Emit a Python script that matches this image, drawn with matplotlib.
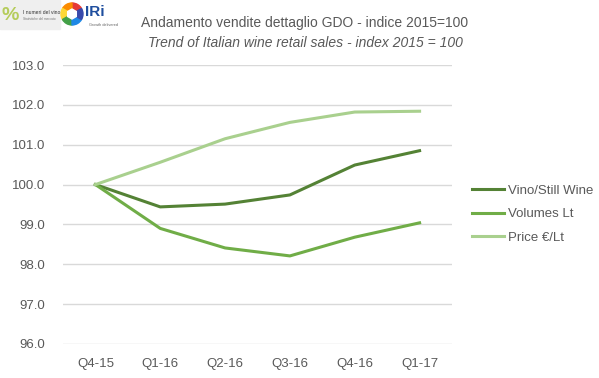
import matplotlib.pyplot as plt
from matplotlib.patches import Rectangle, RegularPolygon, Wedge
import numpy as np

plt.rcParams['font.family'] = ['Liberation Sans', 'DejaVu Sans']

trimestri = ["Q4-15", "Q1-16", "Q2-16", "Q3-16", "Q4-16", "Q1-17"]
vino = [100.0, 99.44, 99.51, 99.74, 100.49, 100.85]
volumi = [100.0, 98.90, 98.41, 98.21, 98.68, 99.04]
prezzo = [100.0, 100.56, 101.15, 101.56, 101.82, 101.84]

W, H = 599, 378
fig = plt.figure(figsize=(W / 100, H / 100), dpi=100)

# area del grafico in pixel
x0, x1, ytop, ybot = 63, 452, 65, 344
ax = fig.add_axes([x0 / W, 1 - ybot / H, (x1 - x0) / W, (ybot - ytop) / H])

x = np.arange(len(trimestri))
ax.plot(x, vino, color="#548235", lw=2.2, label="Vino/Still Wine")
ax.plot(x, volumi, color="#70AD47", lw=2.2, label="Volumes Lt")
ax.plot(x, prezzo, color="#A9D08E", lw=2.2, label="Price €/Lt")

ax.set_xlim(-0.5, len(trimestri) - 0.5)
ax.set_ylim(96, 103)
ax.set_yticks(np.arange(96, 103.5, 1))
ax.set_yticklabels([f"{v:.1f}" for v in np.arange(96, 103.5, 1)])
ax.set_xticks(x)
ax.set_xticklabels(trimestri)
ax.grid(axis="y", color="#D9D9D9", lw=1)
ax.set_axisbelow(True)
for s in ax.spines.values():
    s.set_visible(False)
ax.tick_params(length=0, colors="#595959", labelsize=9.5, pad=10)
ax.tick_params(axis="y", pad=13)

ax.legend(loc="center left", bbox_to_anchor=(472 / W, 1 - 214 / H),
          bbox_transform=fig.transFigure, borderaxespad=0, borderpad=0,
          frameon=False, fontsize=9.5, labelcolor="#595959", handlelength=2.4,
          handletextpad=0.3, labelspacing=0.85)

# titoli
fig.text(305 / W, 1 - 23 / H, "Andamento vendite dettaglio GDO - indice 2015=100",
         ha="center", va="center", fontsize=10, color="#595959")
fig.text(305 / W, 1 - 43 / H, "Trend of Italian wine retail sales - index 2015 = 100",
         ha="center", va="center", fontsize=10, color="#595959", style="italic")

# loghi (approssimati)
fig.patches.append(Rectangle((0, 1 - 29 / H), 60 / W, 29 / H, transform=fig.transFigure,
                             color="#EFEFEF", zorder=0))
fig.text(10 / W, 1 - 15 / H, "%", fontsize=14, color="#B5CC5A", ha="center", va="center",
         weight="bold")
fig.text(23 / W, 1 - 12 / H, "I numeri del vino", fontsize=3.6, color="#333333", va="center")
fig.text(23 / W, 1 - 19 / H, "Statistiche del mercato", fontsize=2.3, color="#777777",
         va="center")
colori = ["#E53935", "#FB8C00", "#FDD835", "#43A047", "#1E88E5", "#3949AB"]
for i, c in enumerate(colori):
    fig.patches.append(Wedge((72, H - 14), 11, 60 * i + 30, 60 * i + 90,
                             transform=None, color=c))
fig.patches.append(RegularPolygon((72, H - 14), 6, radius=5, transform=None,
                                  color="white"))
fig.text(85 / W, 1 - 12 / H, "IRi", fontsize=11, color="#1F4E9E", weight="bold",
         va="center")
fig.text(89 / W, 1 - 25 / H, "Growth delivered", fontsize=2.8, color="#666666", va="center")

fig.savefig("out.png", dpi=100)
